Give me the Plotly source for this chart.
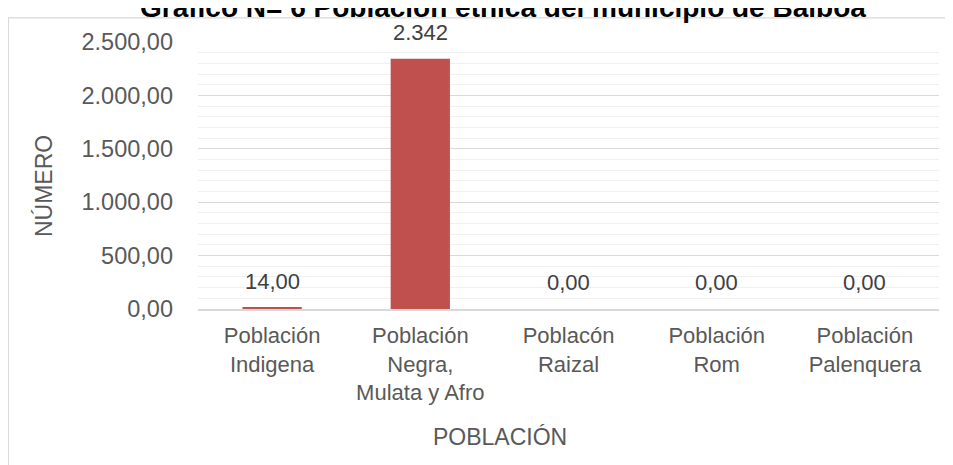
import plotly.graph_objects as go

categories = ["Población<br>Indigena", "Población<br>Negra,<br>Mulata y Afro",
              "Poblacón<br>Raizal", "Población<br>Rom", "Población<br>Palenquera"]
values = [14, 2342, 0, 0, 0]
value_labels = ["14,00", "2.342", "0,00", "0,00", "0,00"]
y_ticks = [0, 500, 1000, 1500, 2000, 2500]

FONT = "Liberation Sans, Arial, sans-serif"
GREY = "#595959"

fig = go.Figure()
fig.add_trace(go.Bar(x=categories, y=values, width=0.4,
                     marker=dict(color="#c0504d", line=dict(width=0)),
                     hoverinfo="x+y"))

# data labels sit a bit above the bars
for cat, val, lab in zip(categories, values, value_labels):
    fig.add_annotation(x=cat, y=val, text=lab, showarrow=False,
                       yanchor="bottom", yshift=12,
                       font=dict(family=FONT, size=22, color="#404040"))

# axis titles (centered on the whole chart area, not the plot)
fig.add_annotation(text="NÚMERO", xref="paper", yref="paper",
                   x=-0.208, y=0.46, xanchor="center", textangle=-90,
                   showarrow=False,
                   font=dict(family=FONT, size=23, color=GREY))
fig.add_annotation(text="POBLACIÓN", xref="paper", yref="paper",
                   x=0.408, y=-0.535, showarrow=False,
                   font=dict(family=FONT, size=23, color=GREY))

# chart title, cut off at the top like the original
fig.add_annotation(text="<b>Grafico N= 6 Poblacion etnica del municipio de Balboa</b>",
                   xref="paper", yref="paper", x=0.412, y=1.064,
                   yanchor="bottom", showarrow=False,
                   font=dict(family=FONT, size=28, color="#000000"))

# chart frame
fig.add_shape(type="rect", xref="paper", yref="paper",
              x0=-0.256, x1=1.2, y0=-1.0, y1=1.09,
              line=dict(color="#d9d9d9", width=1.3), layer="below")

fig.update_layout(
    width=945, height=457,
    margin=dict(l=190, r=14, t=34, b=156),
    paper_bgcolor="white", plot_bgcolor="white",
    separators=",.",
    showlegend=False,
    font=dict(family=FONT, color=GREY),
)
fig.update_xaxes(showline=True, linecolor="#d9d9d9", linewidth=1.5,
                 ticks="", tickfont=dict(family=FONT, size=22, color=GREY),
                 ticklabelstandoff=6, showgrid=False)
fig.update_yaxes(range=[0, 2500], tickvals=y_ticks, tickformat=",.2f",
                 showgrid=True, gridcolor="#d9d9d9", gridwidth=1,
                 zeroline=False, showline=False, ticks="",
                 ticklabelstandoff=24,
                 tickfont=dict(family=FONT, size=23.5, color=GREY),
                 minor=dict(dtick=100, showgrid=True, gridcolor="#f0f0f0",
                            gridwidth=1))

fig.write_html("out.html")
